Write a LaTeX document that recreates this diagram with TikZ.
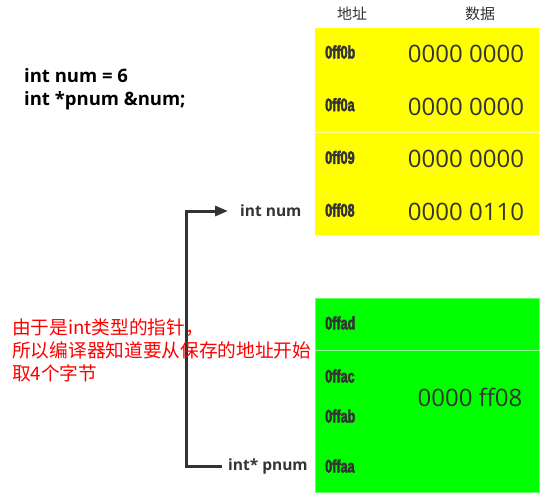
\documentclass[tikz,border=0pt]{standalone}
\usepackage{fontspec}
\setmainfont{Open Sans}
\newfontfamily\cjk{Noto Sans CJK SC}
\newfontfamily\addrfont[FakeStretch=0.7, FakeBold=2.5]{Liberation Sans}
\usetikzlibrary{positioning, arrows.meta}

\definecolor{ink}{HTML}{333333}
\definecolor{memyellow}{HTML}{FFFF00}
\definecolor{memgreen}{HTML}{00FF00}

\begin{document}
\begin{tikzpicture}[
    x=1pt, y=-1pt,
    >={Triangle[length=13pt, width=10pt]},
    block/.style={anchor=north west, inner sep=0pt, minimum width=224pt},
    addr/.style={anchor=west, inner sep=0pt, text=ink, font=\addrfont\bfseries\fontsize{18}{20}\selectfont},
    data/.style={inner sep=0pt, text=ink, font=\fontsize{24}{28}\selectfont},
    head/.style={inner sep=0pt, text=ink, font=\cjk\fontsize{15}{17}\selectfont},
    varlabel/.style={anchor=west, inner sep=0pt, text=ink, font=\bfseries\fontsize{15.5}{18}\selectfont},
    ptr/.style={->, draw=ink, line width=3pt}
]
\useasboundingbox (0,0) rectangle (549,500);

% -------------------------
% Headers and code
% -------------------------
\node[head] (AddrHead) at (352,14) {地址};
\node[head] (DataHead) at (480,14) {数据};

\node[anchor=west, inner sep=0pt, align=left, font=\bfseries\fontsize{18.5}{23}\selectfont] (Code) at (24,89)
    {int num = 6\\int *pnum \&num;};

% -------------------------
% Memory of num (yellow)
% -------------------------
\node[block, fill=memyellow, minimum height=207pt] (NumMem) at (315,28) {};
\draw[memyellow!40!white, line width=0.8pt] (315,132) -- (539,132);

\foreach \a/\d [count=\i] in {0ff0b/0000 0000, 0ff0a/0000 0000, 0ff09/0000 0000, 0ff08/0000 0110}{
    \node[addr] (A\i) at (325, {52+52.7*(\i-1)}) {\a};
    \node[data] (D\i) at (466, {54+52.7*(\i-1)}) {\d};
}

% -------------------------
% Memory of pnum (green)
% -------------------------
\node[block, fill=memgreen, draw=memgreen!60!white, minimum height=194pt] (PnumMem) at (315,298) {};
\draw[memgreen!40!white, line width=0.8pt] (315,350) -- (539,350);

\node[addr] (Ad) at (325,323) {0ffad};
\node[addr] (Ac) at (325,376) {0ffac};
\node[addr] (Ab) at (325,416) {0ffab};
\node[addr] (Aa) at (325,466) {0ffaa};
\node[data] (PVal) at (470,397) {0000 ff08};

% -------------------------
% Variables and pointer
% -------------------------
\node[varlabel] (NumLabel) at (240,211) {int num};
\node[varlabel] (PnumLabel) at (228,466) {int* pnum};

\draw[ptr] ([xshift=-6pt]PnumLabel.west) -- ++(-36,0) |- ([xshift=-12pt]NumLabel.west);

% note
\node[anchor=west, inner sep=0pt, align=left, text=red, font=\cjk\fontsize{18.7}{23}\selectfont] (Note) at (12,350)
    {由于是int类型的指针，\\所以编译器知道要从保存的地址开始\\取4个字节};

\end{tikzpicture}
\end{document}
